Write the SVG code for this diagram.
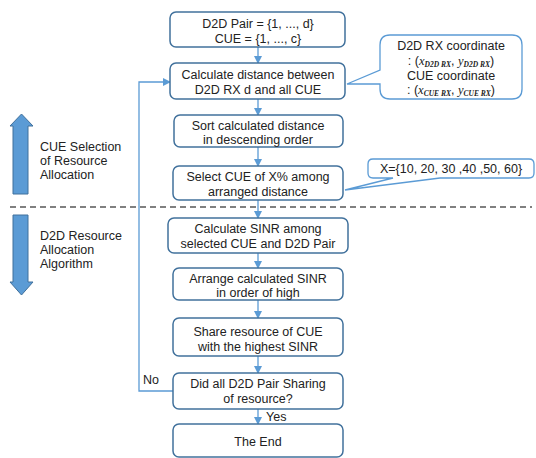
<svg xmlns="http://www.w3.org/2000/svg" width="536" height="458" viewBox="0 0 536 458">
<style>
.box{fill:#fff;stroke:#41719C;stroke-width:1.5}
.t{font-family:"Liberation Sans",Arial,sans-serif;font-size:12.5px;fill:#222;text-anchor:middle}
.lt{font-family:"Liberation Sans",Arial,sans-serif;font-size:12.5px;fill:#222}
.c{fill:none;stroke:#5B9BD5;stroke-width:1.3}
.m{font-family:"Liberation Serif","Times New Roman",serif;font-style:italic}
.s{font-family:"Liberation Serif","Times New Roman",serif;font-style:italic;font-weight:bold;font-size:7.5px}
.big{fill:#5B9BD5;stroke:#41719C;stroke-width:1}
</style>
<defs>
<marker id="ah" markerWidth="8" markerHeight="8" refX="7" refY="4" orient="auto" markerUnits="userSpaceOnUse">
<path d="M0,0 L8,4 L0,8 z" fill="#5B9BD5"/>
</marker>
</defs>
<rect x="0" y="0" width="536" height="458" fill="#fff"/>
<line x1="10" y1="207" x2="532" y2="207" stroke="#808080" stroke-width="2" stroke-dasharray="6,4"/>
<g id="arrow-up"><path class="big" d="M13,194 L13,126 L10,126 L21.5,114 L33,126 L28,126 L28,194 Z"/></g>
<g id="arrow-down"><path class="big" d="M13,215 L28,215 L28,282 L33,282 L21.5,295 L10,282 L13,282 Z"/></g>
<g id="label-cue"><text class="lt" x="40" y="151">CUE Selection</text><text class="lt" x="40" y="165">of Resource</text><text class="lt" x="40" y="179">Allocation</text></g>
<g id="label-d2d"><text class="lt" x="40" y="240">D2D Resource</text><text class="lt" x="40" y="254">Allocation</text><text class="lt" x="40" y="268">Algorithm</text></g>
<g id="connectors">
<line class="c" x1="258" y1="47" x2="258" y2="63" marker-end="url(#ah)"/>
<line class="c" x1="258" y1="99" x2="258" y2="115" marker-end="url(#ah)"/>
<line class="c" x1="258" y1="147" x2="258" y2="166" marker-end="url(#ah)"/>
<line class="c" x1="258" y1="200" x2="258" y2="218" marker-end="url(#ah)"/>
<line class="c" x1="258" y1="253" x2="258" y2="268" marker-end="url(#ah)"/>
<line class="c" x1="258" y1="300" x2="258" y2="318" marker-end="url(#ah)"/>
<line class="c" x1="258" y1="356" x2="258" y2="373" marker-end="url(#ah)"/>
<line class="c" x1="258" y1="409" x2="258" y2="424" marker-end="url(#ah)"/>
<polyline class="c" points="173,391 139,391 139,82 170,82" marker-end="url(#ah)"/>
<text class="lt" x="143" y="384">No</text>
<text class="lt" x="266" y="421">Yes</text>
</g>
<g id="n1"><rect class="box" x="170" y="12" width="175" height="35" rx="6"/><text class="t" x="258" y="28">D2D Pair = {1, ..., d}</text><text class="t" x="258" y="43">CUE = {1, ..., c}</text></g>
<g id="n2"><rect class="box" x="170" y="63" width="175" height="36" rx="6"/><text class="t" x="258" y="79">Calculate distance between</text><text class="t" x="258" y="94">D2D RX d and all CUE</text></g>
<g id="n3"><rect class="box" x="174" y="115" width="169" height="32" rx="6"/><text class="t" x="258" y="130">Sort calculated distance</text><text class="t" x="258" y="144">in descending order</text></g>
<g id="n4"><rect class="box" x="173" y="166" width="170" height="34" rx="6"/><text class="t" x="258" y="181">Select CUE of X% among</text><text class="t" x="258" y="196">arranged distance</text></g>
<g id="n5"><rect class="box" x="168" y="218" width="180" height="35" rx="6"/><text class="t" x="258" y="233">Calculate SINR among</text><text class="t" x="258" y="248">selected CUE and D2D Pair</text></g>
<g id="n6"><rect class="box" x="173" y="268" width="170" height="32" rx="6"/><text class="t" x="258" y="283">Arrange calculated SINR</text><text class="t" x="258" y="297">in order of high</text></g>
<g id="n7"><rect class="box" x="173" y="318" width="170" height="38" rx="6"/><text class="t" x="258" y="336">Share resource of CUE</text><text class="t" x="258" y="351">with the highest SINR</text></g>
<g id="n8"><rect class="box" x="173" y="373" width="170" height="36" rx="6"/><text class="t" x="258" y="388">Did all D2D Pair Sharing</text><text class="t" x="258" y="403">of resource?</text></g>
<g id="n9"><rect class="box" x="173" y="424" width="170" height="33" rx="6"/><text class="t" x="258" y="446">The End</text></g>
<g id="callout1">
<path d="M390,35 H512 Q522,35 522,45 V89 Q522,99 512,99 H390 Q380,99 380,89 V84 L347,84 L380,70 V45 Q380,35 390,35 Z" fill="#fff" stroke="#5B9BD5" stroke-width="1.3"/>
<text class="t" x="451" y="50">D2D RX coordinate</text>
<text class="t" x="451" y="65">: (<tspan class="m">x</tspan><tspan class="s" dy="1.5">D2D RX</tspan><tspan dy="-1.5">, </tspan><tspan class="m">y</tspan><tspan class="s" dy="1.5">D2D RX</tspan><tspan dy="-1.5">)</tspan></text>
<text class="t" x="451" y="80">CUE coordinate</text>
<text class="t" x="451" y="94">: (<tspan class="m">x</tspan><tspan class="s" dy="1.5">CUE RX</tspan><tspan dy="-1.5">, </tspan><tspan class="m">y</tspan><tspan class="s" dy="1.5">CUE RX</tspan><tspan dy="-1.5">)</tspan></text>
</g>
<g id="callout2">
<path d="M373,159 H529 Q534,159 534,164 V173 Q534,178 529,178 H440 L345,190 L393,178 H373 Q368,178 368,173 V164 Q368,159 373,159 Z" fill="#fff" stroke="#5B9BD5" stroke-width="1.3"/>
<text class="t" x="451" y="173">X={10, 20, 30 ,40 ,50, 60}</text>
</g>
</svg>
